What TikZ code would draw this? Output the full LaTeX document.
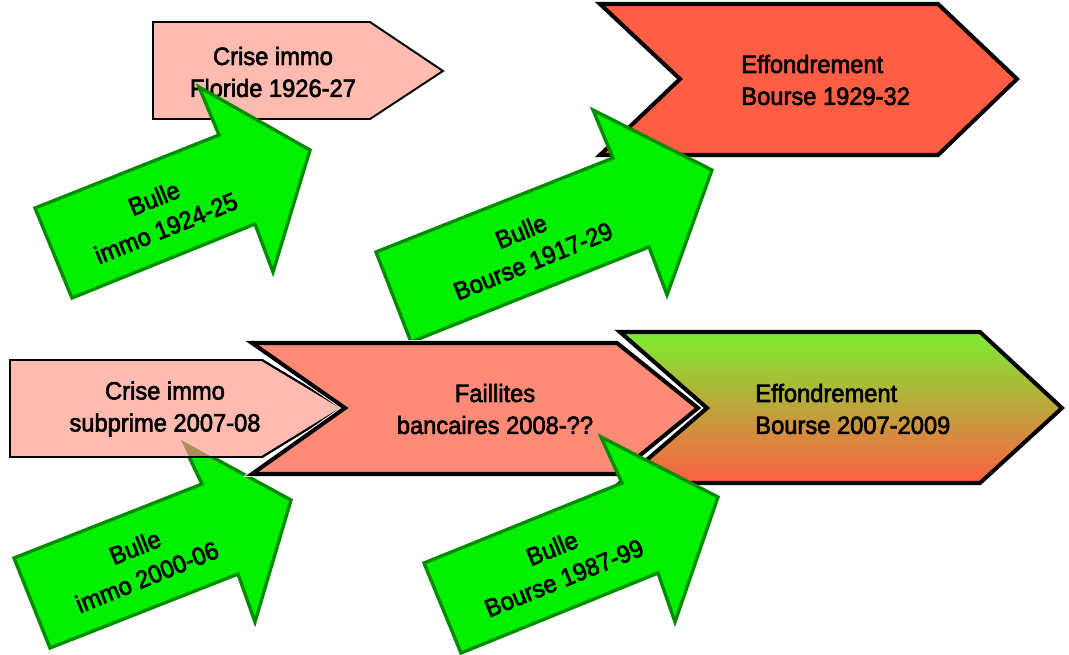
\documentclass[tikz,border=0pt]{standalone}
\usepackage{fontspec}
\setmainfont{Liberation Sans}[FakeBold=2.5,FakeStretch=0.95]
\usepackage{tikz}

\definecolor{criserose}{RGB}{255,187,175}
\definecolor{faillrose}{RGB}{255,138,120}
\definecolor{effrouge}{RGB}{255,94,69}
\definecolor{effvert}{RGB}{124,237,48}
\definecolor{effmilieu}{RGB}{205,160,50}
\definecolor{bullevert}{RGB}{0,240,0}
\definecolor{bullebord}{RGB}{0,140,0}
\definecolor{bulleombre}{RGB}{90,100,0}

\def\subprimebox{(10,360) -- (262,360) -- (342,408) -- (262,457) -- (10,457) -- cycle}
\def\bullebas{(14,558) -- (202,484) -- (181,440) -- (291,500) -- (255,622) -- (238,574) -- (50,648) -- cycle}

\begin{document}
\begin{tikzpicture}[x=0.02cm,y=-0.02cm,
  crise/.style={fill=criserose,draw=black,line width=1.1pt},
  chevron/.style={draw=black,line width=2.3pt,preaction={draw=white,line width=3.4pt}},
  bulle/.style={fill=bullevert,draw=bullebord,line width=1.9pt},
  txt/.style={font=\fontsize{14.2}{18.2}\selectfont,align=center,inner sep=0pt},
  bulletxt/.style={txt,rotate=22}]
\useasboundingbox (0,0) rectangle (1069,654);

% 1920s
\draw[crise] (153,22) -- (370,22) -- (443,71) -- (370,119) -- (153,119) -- cycle;
\node[txt] (floride) at (273,72) {Crise immo\\Floride 1926-27};
\draw[bulle] (35,208) -- (219,135) -- (199,87) -- (310,150) -- (273,272) -- (255,224) -- (72,298) -- cycle;
\node[bulletxt] (bulle1924) at (160,213) {Bulle\\immo 1924-25};

\draw[chevron,fill=effrouge] (600,4) -- (938,4) -- (1017,79) -- (938,155) -- (600,155) -- (680,79) -- cycle;
\node[txt,align=left,anchor=west] (krach1929) at (741,80) {Effondrement\\Bourse 1929-32};
\draw[bulle] (376,252) -- (613,158) -- (593,110) -- (712,170) -- (667,295) -- (649,247) -- (411,342) -- cycle;
\node[bulletxt] (bulle1917) at (527,246) {Bulle\\Bourse 1917-29};

% 2000s
\draw[bulle] \bullebas;
\draw[crise] \subprimebox;
\begin{scope}
\clip \subprimebox;
\fill[bulleombre,fill opacity=0.5] \bullebas;
\end{scope}
\draw[crise,fill=none] \subprimebox;
\node[txt] (subprime) at (165,409) {Crise immo\\subprime 2007-08};
\node[bulletxt] (bulle2000) at (141,562) {Bulle\\immo 2000-06};

\draw[chevron,fill=faillrose] (252,343) -- (617,343) -- (698,408) -- (617,474) -- (252,474) -- (345,408) -- cycle;
\node[txt] (faillites) at (495,409) {Faillites\\bancaires 2008-??};

\draw[chevron,top color=effvert,middle color=effmilieu,bottom color=effrouge] (620,332) -- (980,332) -- (1062,408) -- (980,483) -- (620,483) -- (707,408) -- cycle;
\node[txt,align=left,anchor=west] (krach2007) at (755,409) {Effondrement\\Bourse 2007-2009};

\draw[bulle] (424,563) -- (622,483) -- (601,437) -- (718,497) -- (675,622) -- (658,573) -- (461,653) -- cycle;
\node[bulletxt] (bulle1987) at (558,563) {Bulle\\Bourse 1987-99};

\end{tikzpicture}
\end{document}
